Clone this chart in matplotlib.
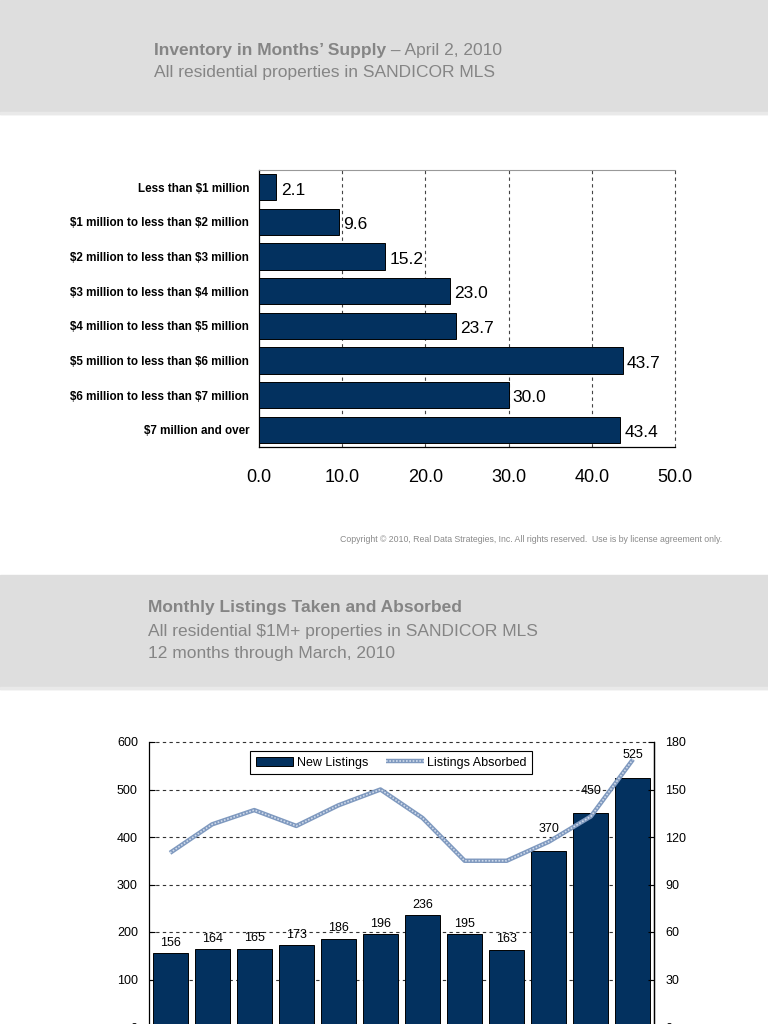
import matplotlib
matplotlib.use('Agg')
import matplotlib.pyplot as plt
from matplotlib.patches import Rectangle
from matplotlib.legend_handler import HandlerTuple
import numpy as np

plt.rcParams['text.parse_math'] = False

# --- data -----------------------------------------------------------------
supply_cats = ['Less than $1 million',
               '$1 million to less than $2 million',
               '$2 million to less than $3 million',
               '$3 million to less than $4 million',
               '$4 million to less than $5 million',
               '$5 million to less than $6 million',
               '$6 million to less than $7 million',
               '$7 million and over']
supply_vals = [2.1, 9.6, 15.2, 23.0, 23.7, 43.7, 30.0, 43.4]
supply_ticks = [0, 10, 20, 30, 40, 50]

new_listings = [156, 164, 165, 173, 186, 196, 236, 195, 163, 370, 450, 525]
absorbed = [110, 128, 137, 127, 140, 150, 132, 105, 105, 117, 133, 169]
left_ticks = [0, 100, 200, 300, 400, 500, 600]
right_ticks = [0, 30, 60, 90, 120, 150, 180]

NARROW = ['Liberation Sans Narrow', 'Liberation Sans']
REG = ['Liberation Sans', 'DejaVu Sans']
GRAY_TXT = '#858585'
BAND = '#dedede'
NAVY = '#03315f'
TITLE_FS = 12.5

W, H = 768, 1024
fig = plt.figure(figsize=(W / 100, H / 100), dpi=100)
fig.patch.set_facecolor('white')


def box(l, t, r, b):
    # pixel box -> figure fraction [left, bottom, width, height]
    return [l / W, (H - b) / H, (r - l) / W, (b - t) / H]


# header bands
for top, bot in [(0, 114), (575, 689)]:
    fig.patches.append(Rectangle((0, (H - bot) / H), 1, (bot - top) / H,
                                 transform=fig.transFigure, color=BAND, zorder=0))
    fig.patches.append(Rectangle((0, (H - bot) / H), 1, 2 / H,
                                 transform=fig.transFigure, color='#e9e9e9', zorder=0))

# titles
t1 = fig.text(154 / W, 1 - 55 / H, 'Inventory in Months\u2019 Supply', family=NARROW,
              fontsize=TITLE_FS, weight='bold', color=GRAY_TXT, va='baseline')
fig.canvas.draw()
bb = t1.get_window_extent(fig.canvas.get_renderer())
fig.text(bb.x1 / W, 1 - 55 / H, ' \u2013 April 2, 2010', family=NARROW,
         fontsize=TITLE_FS, color=GRAY_TXT, va='baseline')
fig.text(154 / W, 1 - 77 / H, 'All residential properties in SANDICOR MLS', family=NARROW,
         fontsize=TITLE_FS, color=GRAY_TXT, va='baseline')

fig.text(148 / W, 1 - 612 / H, 'Monthly Listings Taken and Absorbed', family=NARROW,
         fontsize=TITLE_FS, weight='bold', color=GRAY_TXT, va='baseline')
fig.text(148 / W, 1 - 636 / H, 'All residential $1M+ properties in SANDICOR MLS', family=NARROW,
         fontsize=TITLE_FS, color=GRAY_TXT, va='baseline')
fig.text(148 / W, 1 - 658 / H, '12 months through March, 2010', family=NARROW,
         fontsize=TITLE_FS, color=GRAY_TXT, va='baseline')

fig.text(722 / W, 1 - 540 / H, 'Copyright \u00a9 2010, Real Data Strategies, Inc. All rights reserved.  '
         'Use is by license agreement only.', family=REG, fontsize=6.3, color='#8a8a8a',
         ha='right', va='center')

# --- chart 1: months' supply ----------------------------------------------
ax1 = fig.add_axes(box(259, 170, 675, 447))
y = np.arange(len(supply_cats))
ax1.barh(y, supply_vals, height=0.76, color=NAVY, edgecolor='black', linewidth=0.7, zorder=3)
ax1.set_xlim(0, 50)
ax1.set_ylim(len(supply_cats) - 0.5, -0.5)
ax1.set_yticks(y)
ax1.set_yticklabels(supply_cats, family=NARROW, fontsize=8.4, weight='bold')
ax1.set_xticks(supply_ticks)
ax1.set_xticklabels([f'{v:.1f}' for v in supply_ticks], family=REG, fontsize=13)
ax1.tick_params(axis='both', length=0)
ax1.tick_params(axis='y', pad=7)
ax1.tick_params(axis='x', pad=16)
for v in supply_ticks[1:]:
    ax1.axvline(v, color='#444444', lw=0.8, ls=(0, (3, 3)), zorder=1, clip_on=False)
ax1.spines['right'].set_visible(False)
ax1.spines['top'].set_color('#999999')
ax1.spines['top'].set_linewidth(0.8)
ax1.spines['left'].set_linewidth(0.9)
ax1.spines['bottom'].set_linewidth(0.9)
for yi, v in zip(y, supply_vals):
    ax1.annotate(f'{v:.1f}', xy=(v, yi), xytext=(3, -2), textcoords='offset points',
                 va='center', ha='left', family=REG, fontsize=12.5, zorder=4)

# --- chart 2: monthly listings --------------------------------------------
ax2 = fig.add_axes(box(149, 742, 654, 1027))
x = np.arange(len(new_listings))
bars = ax2.bar(x, new_listings, width=0.83, color=NAVY, edgecolor='black', linewidth=0.7,
               zorder=3, label='New Listings')
ax2.set_xlim(-0.5, len(new_listings) - 0.5)
ax2.set_ylim(0, 600)
ax2.set_yticks(left_ticks)
ax2.set_yticklabels([str(v) for v in left_ticks], family=REG, fontsize=9)
ax2.set_xticks([])
ax2.tick_params(axis='y', direction='in', length=4, pad=8)
for v in left_ticks[1:]:
    ax2.axhline(v, color='#333333', lw=0.8, ls=(0, (3, 3)), zorder=1, clip_on=False)
ax2.spines['top'].set_visible(False)
ax2.spines['left'].set_linewidth(0.9)
ax2.spines['right'].set_linewidth(0.9)
for i, (xi, v) in enumerate(zip(x, new_listings)):
    off = 12 if i >= 9 else 3
    ax2.annotate(str(v), xy=(xi, v), xytext=(0, off), textcoords='offset points',
                 ha='center', va='bottom', family=REG, fontsize=9, zorder=5)

ax3 = ax2.twinx()
ax3.set_ylim(0, 180)
ax3.set_yticks(right_ticks)
ax3.set_yticklabels([str(v) for v in right_ticks], family=REG, fontsize=9)
ax3.tick_params(axis='y', direction='in', length=4, pad=8)
for s in ['top', 'left', 'bottom']:
    ax3.spines[s].set_visible(False)
ax3.spines['right'].set_linewidth(0.9)
l1, = ax3.plot(x, absorbed, color='#7f99bf', lw=3.2, zorder=4, solid_capstyle='butt')
l2, = ax3.plot(x, absorbed, color='#cfdaea', lw=1.2, ls=(0, (1, 1)), zorder=5)

leg = ax2.legend([bars, (l1, l2)], ['New Listings', 'Listings Absorbed'],
                 handler_map={tuple: HandlerTuple(ndivide=1)},
                 loc='upper center', bbox_to_anchor=(0.48, 0.99), ncol=2, fancybox=False,
                 edgecolor='black', framealpha=1, prop={'family': REG, 'size': 9},
                 handlelength=3, handletextpad=0.3, columnspacing=1.4,
                 borderpad=0.45)
leg.get_frame().set_linewidth(0.8)
leg.set_zorder(10)

fig.savefig('out.png', dpi=100)
